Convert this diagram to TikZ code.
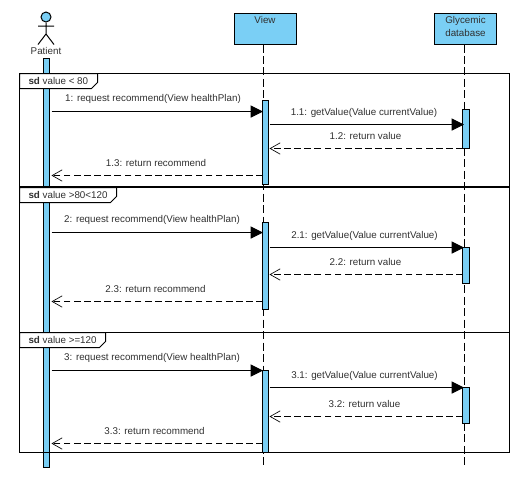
\documentclass[tikz,border=0pt]{standalone}
\usepackage{fontspec}
\setmainfont{Liberation Sans}
\usetikzlibrary{arrows.meta}
\definecolor{lifeblue}{HTML}{7ACFF5}
\definecolor{inkgrey}{HTML}{303030}

\begin{document}
\begin{tikzpicture}[
  x=0.75pt, y=-0.75pt,
  line width=0.75pt,
  font=\fontsize{7.35}{9.6}\selectfont,
  object/.style={
    draw, fill=lifeblue, anchor=north west, align=center, minimum height=23.25pt,
    inner sep=0pt, text=inkgrey, text depth=13pt
  },
  actv/.style={draw, fill=lifeblue, anchor=north west, inner sep=0pt, minimum width=4.9pt},
  lifeline/.style={dashed, dash pattern=on 6pt off 2.6pt},
  call/.style={-{Triangle[length=9.2pt,width=9pt]}},
  reply/.style={dash pattern=on 5pt off 2.6pt, -{Straight Barb[length=7.5pt,width=8.5pt,line width=0.5pt]}},
  msg/.style={text=inkgrey, inner sep=0pt},
  tabtext/.style={text=inkgrey, anchor=west, inner sep=0pt},
  actorlabel/.style={text=inkgrey, inner sep=0pt},
]
\useasboundingbox (0,0) rectangle (530,480);

% objects
\node[object, minimum width=46.5pt] (view) at (233.5,12.5) {View};
\node[object, minimum width=46.5pt, text depth=3pt] (db) at (434,12.5) {Glycemic\\database};
\coordinate (viewend) at (263.5,468);
\coordinate (dbend) at (464.5,468);
\draw[lifeline] (view.south -| viewend) -- (viewend);
\draw[lifeline] (db.south -| dbend) -- (dbend);

% actor
\node[draw, circle, fill=lifeblue, minimum size=7.5pt, inner sep=0pt] (head) at (46,17) {};
\coordinate (hip) at (46,34);
\coordinate (armL) at (38,26);
\coordinate (armR) at (54,26);
\coordinate (footL) at (38,44.5);
\coordinate (footR) at (54,44.5);
\draw (head.south) -- (hip) (armL) -- (armR) (footL) -- (hip) -- (footR);
\node[actorlabel] (patient) at (46,50.5) {Patient};

% activations
\node[actv, minimum height=306.75pt] (pa) at (42.5,57.5) {};
\foreach \n/\top/\len in {1/99.5/84, 2/221.5/87, 3/369.5/82}{
  \node[actv, minimum height=\len*0.75pt] (va\n) at (261.5,\top) {};
}
\foreach \n/\top/\len in {1/108.5/39, 2/246.5/36, 3/386.5/36}{
  \node[actv, minimum height=\len*0.75pt] (da\n) at (462.3,\top) {};
}

% frames
\draw (19.5,73.5) rectangle (509.5,186.5);
\draw (19.5,187.5) rectangle (509.5,332.5);
\draw (19.5,332.5) rectangle (509.5,452.5);
\foreach \n/\top/\right/\cond in {
  1/73.5/97.5/{value < 80},
  2/187.5/116.5/{value >80<120},
  3/332.5/105.5/{value >=120}
}{
  \draw[fill=white] (19.5,\top) -- (\right,\top) -- (\right,\top+9) -- (\right-6,\top+15)
    -- (19.5,\top+15) -- cycle;
  \node[tabtext] (tab\n) at (28,\top+7) {\textbf{sd} \cond};
}

% messages
\foreach \n/\ya/\yb/\yc/\yd/\la/\lb/\lc/\ld in {
  1/111.5/124.5/148.5/175.5/153/364/365.5/156,
  2/232.5/247.5/274.5/301.5/152/364.5/365.5/155.5,
  3/370.5/387.5/416.5/443.5/152/364.5/364.5/154.5
}{
  \coordinate (pr\n) at (51.5,\ya);
  \coordinate (vr\n) at (263,\ya);
  \coordinate (vg\n) at (269.5,\yb);
  \coordinate (dg\n) at (464,\yb);
  \coordinate (dv\n) at (463,\yc);
  \coordinate (vd\n) at (269.5,\yc);
  \coordinate (vp\n) at (263,\yd);
  \coordinate (pv\n) at (51.5,\yd);
  \draw[call] (pr\n) -- (vr\n);
  \draw[call] (vg\n) -- (dg\n);
  \draw[reply] (dv\n) -- (vd\n);
  \draw[reply] (vp\n) -- (pv\n);
  \node[msg] (ma\n) at (\la,\ya-12.5) {\n: request recommend(View healthPlan)};
  \node[msg] (mb\n) at (\lb,\yb-12) {\n.1: getValue(Value currentValue)};
  \node[msg] (mc\n) at (\lc,\yc-12.5) {\n.2: return value};
  \node[msg] (md\n) at (\ld,\yd-13) {\n.3: return recommend};
}

\end{tikzpicture}
\end{document}
